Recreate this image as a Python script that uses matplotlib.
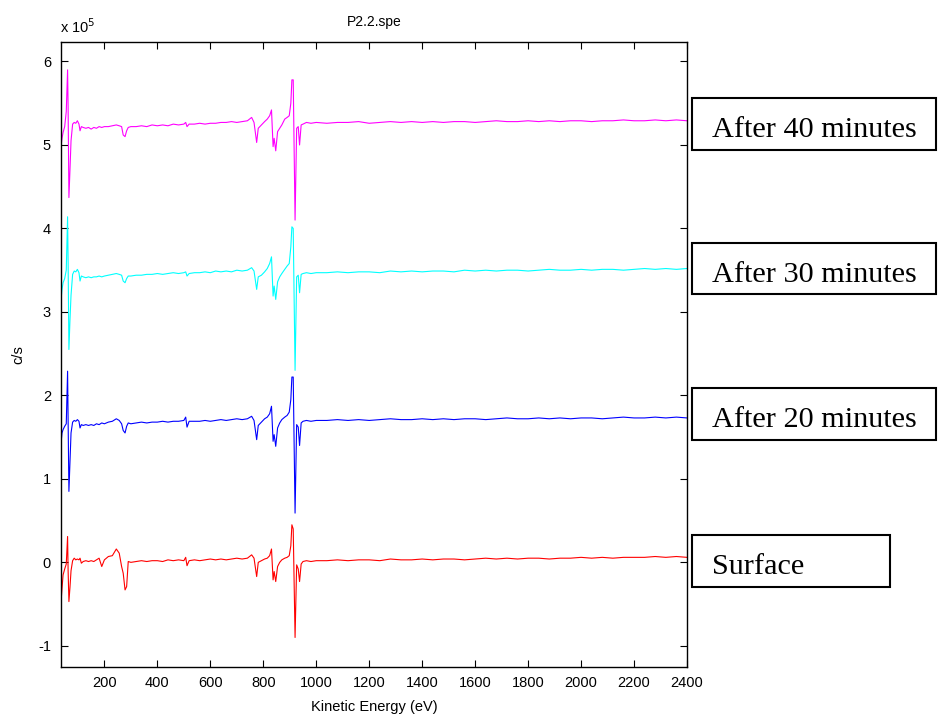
import matplotlib
matplotlib.use("Agg")
import matplotlib.pyplot as plt
from matplotlib.patches import Rectangle

# Kinetic energy grid (eV)
energy = [35, 40, 44, 50, 56, 61, 63, 66, 70, 74,
          80, 86, 92, 98, 104, 108, 113, 120, 130, 140,
          150, 160, 170, 180, 190, 200, 215, 230, 245, 256,
          265, 271, 278, 284, 290, 300, 320, 340, 360, 380,
          400, 420, 440, 460, 480, 500, 507, 512, 520, 540,
          560, 580, 600, 620, 640, 660, 680, 700, 720, 740,
          756, 765, 775, 781, 793, 805, 815, 824, 831, 837,
          841, 847, 854, 862, 870, 881, 890, 898, 904, 908,
          913, 920, 926, 932, 937, 943, 950, 963, 980, 1000,
          1040, 1080, 1120, 1160, 1200, 1240, 1280, 1320, 1360, 1400,
          1440, 1480, 1520, 1560, 1600, 1640, 1680, 1720, 1760, 1800,
          1840, 1880, 1920, 1960, 2000, 2040, 2080, 2120, 2160, 2200,
          2240, 2280, 2320, 2360, 2400]

# counts per second, in units of 1e5
after40_e5 = [4.95, 5.08, 5.15, 5.22, 5.40, 5.90, 5.45, 4.37, 4.70, 5.05,
              5.25, 5.27, 5.26, 5.29, 5.25, 5.17, 5.22, 5.21, 5.20, 5.21,
              5.19, 5.21, 5.20, 5.22, 5.21, 5.22, 5.22, 5.23, 5.24, 5.23,
              5.22, 5.12, 5.10, 5.17, 5.21, 5.22, 5.22, 5.23, 5.22, 5.24,
              5.23, 5.24, 5.23, 5.25, 5.24, 5.25, 5.27, 5.22, 5.25, 5.25,
              5.26, 5.25, 5.26, 5.26, 5.27, 5.27, 5.28, 5.27, 5.28, 5.29,
              5.33, 5.27, 5.03, 5.20, 5.24, 5.28, 5.31, 5.35, 5.42, 4.98,
              5.08, 4.93, 5.16, 5.20, 5.24, 5.31, 5.33, 5.35, 5.50, 5.78,
              5.78, 4.10, 5.20, 5.22, 5.00, 5.24, 5.25, 5.27, 5.26, 5.27,
              5.26, 5.27, 5.27, 5.28, 5.26, 5.27, 5.28, 5.27, 5.28, 5.27,
              5.28, 5.27, 5.28, 5.28, 5.27, 5.28, 5.29, 5.28, 5.28, 5.29,
              5.28, 5.29, 5.28, 5.29, 5.29, 5.28, 5.29, 5.29, 5.30, 5.29,
              5.29, 5.30, 5.29, 5.30, 5.29]

after30_e5 = [3.10, 3.27, 3.35, 3.40, 3.50, 4.14, 3.60, 2.55, 2.90, 3.20,
              3.45, 3.49, 3.48, 3.51, 3.47, 3.37, 3.43, 3.42, 3.41, 3.42,
              3.41, 3.42, 3.42, 3.43, 3.42, 3.43, 3.44, 3.45, 3.46, 3.45,
              3.44, 3.37, 3.35, 3.40, 3.43, 3.43, 3.44, 3.44, 3.45, 3.45,
              3.46, 3.45, 3.46, 3.47, 3.46, 3.47, 3.48, 3.43, 3.46, 3.47,
              3.47, 3.48, 3.47, 3.49, 3.48, 3.49, 3.48, 3.50, 3.49, 3.50,
              3.53, 3.49, 3.27, 3.42, 3.44, 3.48, 3.52, 3.58, 3.66, 3.19,
              3.31, 3.15, 3.36, 3.42, 3.46, 3.51, 3.55, 3.58, 3.78, 4.02,
              4.00, 2.30, 3.42, 3.44, 3.23, 3.45, 3.46, 3.47, 3.46, 3.47,
              3.47, 3.48, 3.47, 3.48, 3.48, 3.47, 3.49, 3.48, 3.49, 3.48,
              3.49, 3.49, 3.48, 3.50, 3.49, 3.50, 3.49, 3.50, 3.50, 3.49,
              3.50, 3.51, 3.50, 3.50, 3.51, 3.50, 3.51, 3.51, 3.50, 3.51,
              3.52, 3.51, 3.52, 3.51, 3.52]

after20_e5 = [1.39, 1.55, 1.59, 1.63, 1.66, 2.29, 1.70, 0.85, 1.20, 1.55,
              1.68, 1.70, 1.69, 1.71, 1.69, 1.61, 1.65, 1.64, 1.65, 1.64,
              1.65, 1.64, 1.66, 1.65, 1.67, 1.66, 1.68, 1.69, 1.72, 1.70,
              1.66, 1.58, 1.55, 1.63, 1.67, 1.66, 1.67, 1.68, 1.67, 1.68,
              1.68, 1.69, 1.68, 1.69, 1.69, 1.70, 1.74, 1.62, 1.69, 1.69,
              1.69, 1.70, 1.69, 1.70, 1.71, 1.70, 1.71, 1.72, 1.71, 1.72,
              1.75, 1.70, 1.47, 1.64, 1.68, 1.72, 1.74, 1.78, 1.87, 1.45,
              1.53, 1.39, 1.61, 1.67, 1.71, 1.74, 1.76, 1.80, 1.95, 2.22,
              2.22, 0.59, 1.65, 1.62, 1.40, 1.67, 1.69, 1.70, 1.69, 1.70,
              1.70, 1.71, 1.70, 1.71, 1.70, 1.71, 1.72, 1.71, 1.71, 1.72,
              1.71, 1.72, 1.71, 1.72, 1.72, 1.71, 1.72, 1.73, 1.72, 1.72,
              1.73, 1.72, 1.73, 1.72, 1.73, 1.73, 1.72, 1.73, 1.74, 1.73,
              1.73, 1.74, 1.73, 1.74, 1.73]

surface_e5 = [-0.53, -0.31, -0.15, -0.08, -0.02, 0.31, -0.10, -0.47, -0.30, -0.10,
              0.02, 0.05, 0.03, 0.04, 0.03, 0.05, -0.01, 0.01, 0.02, 0.01,
              0.02, 0.01, 0.03, 0.05, -0.05, 0.03, 0.07, 0.08, 0.16, 0.11,
              -0.05, -0.13, -0.33, -0.29, 0.01, 0.00, 0.01, 0.02, 0.01, 0.02,
              0.02, 0.01, 0.03, 0.02, 0.03, 0.02, 0.06, -0.04, 0.02, 0.03,
              0.02, 0.03, 0.04, 0.03, 0.04, 0.03, 0.04, 0.05, 0.04, 0.05,
              0.09, 0.05, -0.17, 0.00, 0.02, 0.04, 0.05, 0.08, 0.16, -0.21,
              -0.11, -0.23, -0.05, 0.00, 0.03, 0.05, 0.06, 0.08, 0.20, 0.45,
              0.40, -0.90, -0.03, -0.08, -0.23, -0.02, 0.01, 0.02, 0.01, 0.02,
              0.02, 0.03, 0.02, 0.03, 0.03, 0.02, 0.04, 0.03, 0.03, 0.04,
              0.03, 0.04, 0.04, 0.03, 0.04, 0.05, 0.04, 0.05, 0.04, 0.05,
              0.05, 0.04, 0.05, 0.05, 0.06, 0.05, 0.06, 0.05, 0.06, 0.06,
              0.06, 0.07, 0.06, 0.07, 0.06]

series_labels = ["After 40 minutes", "After 30 minutes", "After 20 minutes", "Surface"]
series_colors = ["#ff00ff", "#00ffff", "#0000ff", "#ff0000"]
x_ticks = [200, 400, 600, 800, 1000, 1200, 1400, 1600, 1800, 2000, 2200, 2400]
y_ticks = [-1, 0, 1, 2, 3, 4, 5, 6]

W, H = 938, 715
fig = plt.figure(figsize=(W / 100, H / 100), dpi=100)
plt.rcParams['font.family'] = ['Liberation Sans', 'DejaVu Sans']

ax = fig.add_axes([60.7 / W, 1 - 666.7 / H, (687 - 60.7) / W, (666.7 - 42.3) / H])
for vals, col in zip([after40_e5, after30_e5, after20_e5, surface_e5], series_colors):
    ax.plot(energy, vals, color=col, linewidth=0.8)

ax.set_xlim(35, 2400)
ax.set_ylim(-1.25, 6.23)
ax.set_xticks(x_ticks)
ax.set_xticklabels([str(t) for t in x_ticks])
ax.set_yticks(y_ticks)
ax.set_yticklabels([str(t) for t in y_ticks])
ax.tick_params(direction='in', top=True, right=True, length=5, width=0.8,
               labelsize=10.5, pad=7, colors='black')
for s in ax.spines.values():
    s.set_linewidth(1.0)

ax.set_title("P2.2.spe", fontsize=10, pad=12)
ax.set_xlabel("Kinetic Energy (eV)", fontsize=10.5, labelpad=7)
ax.set_ylabel("c/s", fontsize=10.5, labelpad=9)
fig.text(60 / W, 1 - 27 / H, "x 10$^5$", fontsize=10.5, ha='left', va='center')

# annotation boxes (pixel coordinates)
boxes = [(692, 98.3, 936, 150.0), (692, 242.7, 936, 294.3),
         (692, 388.3, 936, 440.0), (692, 535.0, 890, 586.7)]
for (x0, y0, x1, y1), lab in zip(boxes, series_labels):
    rect = Rectangle((x0 / W, 1 - y1 / H), (x1 - x0) / W, (y1 - y0) / H,
                     transform=fig.transFigure, fill=False, edgecolor='black',
                     linewidth=1.5)
    fig.add_artist(rect)
    fig.text(712 / W, 1 - ((y0 + y1) / 2 + 6) / H, lab, fontsize=21.8,
             family=['Liberation Serif', 'DejaVu Serif'], ha='left', va='center')

fig.savefig("out.png", dpi=100)
